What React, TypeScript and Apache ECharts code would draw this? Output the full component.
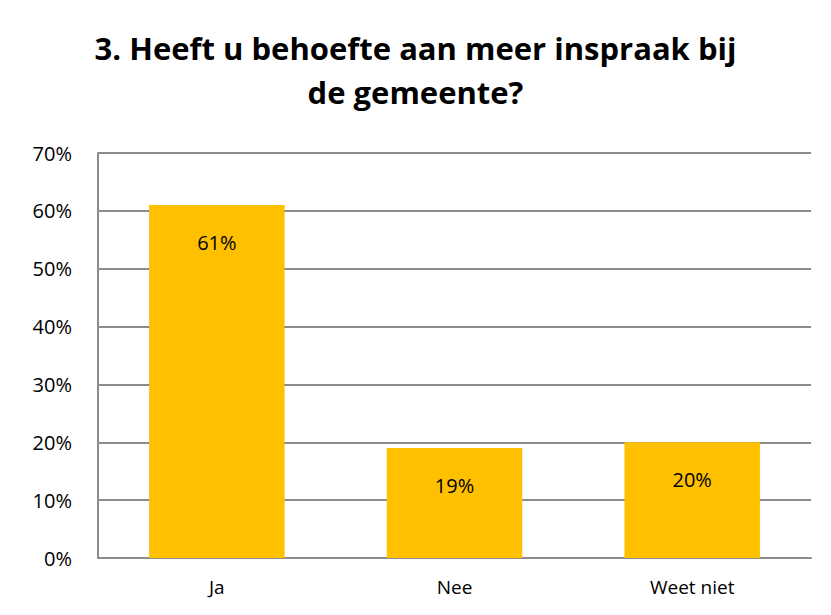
import React, { useEffect, useRef } from "react";
import * as echarts from "echarts";

const categories = ["Ja", "Nee", "Weet niet"];
const values = [61, 19, 20];
const yTicks = { min: 0, max: 70, interval: 10 };
const titleText = "3. Heeft u behoefte aan meer inspraak bij\nde gemeente?";

export default function App() {
  const ref = useRef<HTMLDivElement>(null);
  useEffect(() => {
    if (!ref.current) return;
    const chart = echarts.init(ref.current, null, { renderer: "svg" });
    const font = "Open Sans";
    chart.setOption({
      animation: false,
      backgroundColor: "#ffffff",
      title: {
        text: titleText,
        left: "center",
        top: 21,
        padding: [5, 5, 5, 22],
        textStyle: {
          fontFamily: font,
          fontWeight: "bold",
          fontSize: 31,
          lineHeight: 44,
          color: "#000000",
        },
      },
      graphic: {
        elements: [
          {
            type: "rect",
            left: 6,
            top: 6,
            z: 100,
            shape: { width: 860, height: 640 },
            style: { fill: "transparent", stroke: "#898989", lineWidth: 2 },
            silent: true,
          },
        ],
      },
      grid: { left: 98, right: 20, top: 153, bottom: 57 },
      xAxis: {
        type: "category",
        data: categories,
        axisTick: { show: false },
        axisLine: { lineStyle: { color: "#8c8c8c", width: 2 } },
        axisLabel: { fontFamily: font, fontSize: 19, color: "#000", margin: 19 },
      },
      yAxis: {
        type: "value",
        min: yTicks.min,
        max: yTicks.max,
        interval: yTicks.interval,
        axisLine: { show: true, lineStyle: { color: "#8c8c8c", width: 2 } },
        axisTick: { show: false },
        splitLine: { lineStyle: { color: "#8c8c8c", width: 2 } },
        axisLabel: {
          fontFamily: font,
          fontSize: 20,
          color: "#000",
          margin: 26,
          formatter: (v: number) => v + "%",
        },
      },
      series: [
        {
          type: "bar",
          data: values,
          barWidth: "57%",
          itemStyle: { color: "#FFC000" },
          label: {
            show: true,
            position: "insideTop",
            distance: 27,
            fontFamily: font,
            fontSize: 20,
            color: "#000",
            formatter: (p: any) => p.value + "%",
          },
        },
      ],
    });
    return () => chart.dispose();
  }, []);
  return <div ref={ref} style={{ width: 831, height: 615, margin: -8 }} />;
}
